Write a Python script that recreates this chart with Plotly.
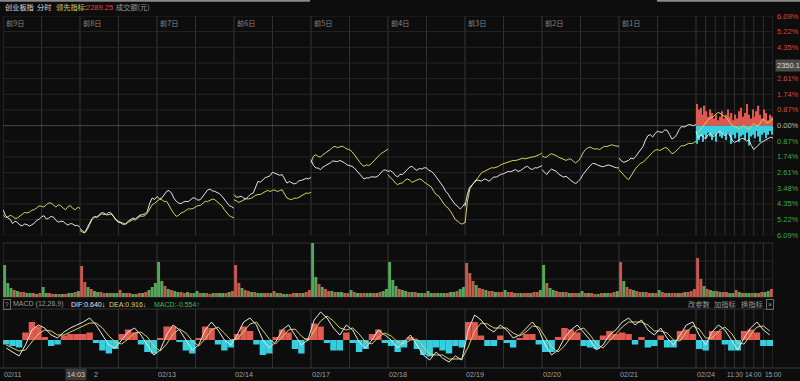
import plotly.graph_objects as go

# ---------------- data ----------------
dates = ["02/11", "02/12", "02/13", "02/14", "02/17", "02/18", "02/19", "02/20", "02/21", "02/24"]
day_tags = ["前9日", "前8日", "前7日", "前6日", "前5日", "前4日", "前3日", "前2日", "前1日"]
time_ticks = ["11:30", "14:00", "15:00"]
time_pos = [9.5, 9.75, 10.0]
pct_levels = [6.09, 5.22, 4.35, 3.48, 2.61, 1.74, 0.87, 0.0, -0.87, -1.74, -2.61, -3.48, -4.35, -5.22, -6.09]
lead_value = "2289.25"
cross_time = "14:03"
cross_price = "2350.1"
cross_level = 3.48
macd_params = "MACD (12,26,9)"
dif_now, dea_now, macd_now = "0.640", "0.916", "-0.554"

# index (white) and leading indicator (yellow), % vs previous close, 33 samples per day
index_pct = [
    [-4.67, -4.98, -5.13, -5.20, -5.44, -5.30, -5.37, -5.52, -5.56, -5.46, -5.50, -5.58, -5.50, -5.42, -5.26, -5.20, -5.07,
     -5.00, -5.19, -5.14, -5.04, -5.08, -5.26, -5.36, -5.31, -5.32, -5.44, -5.52, -5.44, -5.46, -5.56, -5.54, -5.63],
    [-5.69, -5.85, -5.93, -5.70, -5.41, -5.16, -5.04, -5.08, -4.94, -4.84, -4.85, -4.96, -4.94, -4.90, -5.07, -5.26, -5.37,
     -5.40, -5.50, -5.44, -5.31, -5.24, -5.13, -5.18, -5.07, -4.96, -4.94, -4.90, -4.76, -4.30, -4.02, -4.10, -3.93],
    [-3.93, -4.06, -4.02, -3.80, -3.65, -3.60, -3.74, -4.02, -4.20, -4.30, -4.33, -4.24, -4.20, -4.22, -4.11, -4.00, -4.04,
     -4.14, -4.11, -3.92, -3.70, -3.58, -3.52, -3.62, -3.65, -3.70, -3.78, -3.92, -4.11, -4.30, -4.44, -4.50, -4.59],
    [-3.83, -3.98, -3.96, -3.92, -4.02, -4.06, -3.93, -3.80, -3.74, -3.40, -3.09, -3.14, -3.00, -2.88, -2.85, -2.78, -2.59,
     -2.64, -2.67, -2.76, -2.72, -2.96, -3.19, -3.10, -3.15, -3.24, -3.19, -3.06, -3.04, -3.00, -2.93, -2.96, -2.87],
    [-1.89, -2.20, -2.35, -2.36, -2.44, -2.30, -2.22, -2.16, -2.07, -1.96, -1.98, -2.00, -1.93, -1.98, -2.07, -2.18, -2.22,
     -2.26, -2.35, -2.50, -2.63, -2.80, -2.96, -2.90, -2.91, -2.84, -2.85, -2.86, -2.78, -2.60, -2.48, -2.46, -2.54],
    [-2.54, -2.50, -2.59, -2.76, -2.85, -2.70, -2.72, -2.60, -2.44, -2.30, -2.26, -2.40, -2.48, -2.38, -2.41, -2.34, -2.35,
     -2.48, -2.54, -2.66, -2.85, -3.04, -3.19, -3.40, -3.65, -3.80, -4.02, -4.24, -4.39, -4.48, -4.63, -4.50, -4.30],
    [-4.48, -3.80, -3.41, -3.30, -3.15, -3.02, -3.04, -3.08, -2.96, -3.00, -3.09, -2.94, -2.85, -2.86, -2.78, -2.70, -2.67,
     -2.62, -2.54, -2.56, -2.48, -2.44, -2.54, -2.50, -2.41, -2.30, -2.26, -2.38, -2.44, -2.34, -2.35, -2.28, -2.22],
    [-2.44, -2.60, -2.72, -2.52, -2.41, -2.48, -2.54, -2.70, -2.78, -2.86, -2.81, -2.90, -3.04, -3.14, -3.22, -3.10, -2.96,
     -2.72, -2.54, -2.40, -2.22, -2.10, -2.11, -2.18, -2.22, -2.28, -2.26, -2.20, -2.19, -2.26, -2.30, -2.34, -2.35],
    [-1.80, -1.96, -2.04, -2.00, -1.93, -1.80, -1.85, -1.70, -1.52, -1.30, -1.15, -0.80, -0.56, -0.50, -0.63, -0.44, -0.31,
     -0.36, -0.37, -0.24, -0.26, -0.50, -0.74, -0.66, -0.50, -0.22, -0.04, -0.08, 0.00, 0.06, 0.04, 0.00, 0.06],
    [-0.31, -0.70, -0.50, -0.60, -0.74, -0.50, -0.41, -0.60, -0.56, -0.40, -0.31, -0.46, -0.56, -0.42, -0.50, -0.80, -0.93,
     -0.86, -0.81, -0.70, -0.74, -0.86, -0.78, -1.10, -1.33, -1.20, -1.06, -0.94, -0.87, -0.80, -0.74, -0.64, -0.69],
]
lead_pct = [
    [-4.94, -5.10, -5.07, -4.98, -5.04, -5.15, -5.13, -5.02, -4.94, -4.82, -4.85, -4.80, -4.70, -4.66, -4.57, -4.46, -4.48,
     -4.52, -4.39, -4.30, -4.30, -4.40, -4.52, -4.40, -4.44, -4.58, -4.67, -4.50, -4.44, -4.60, -4.67, -4.54, -4.59],
    [-5.81, -5.92, -5.96, -5.78, -5.50, -5.22, -5.07, -5.10, -5.00, -4.90, -4.94, -4.92, -4.81, -4.86, -5.04, -5.22, -5.31,
     -5.36, -5.44, -5.48, -5.37, -5.28, -5.22, -5.24, -5.13, -5.02, -5.04, -5.00, -4.85, -4.60, -4.39, -4.32, -4.20],
    [-4.20, -4.10, -4.11, -4.22, -4.20, -4.40, -4.67, -4.88, -5.04, -4.98, -4.85, -4.80, -4.70, -4.62, -4.63, -4.60, -4.52,
     -4.44, -4.44, -4.34, -4.20, -4.22, -4.15, -4.08, -4.11, -4.22, -4.33, -4.46, -4.67, -4.86, -5.00, -5.06, -5.13],
    [-4.11, -4.20, -4.26, -4.20, -4.15, -4.06, -4.07, -4.04, -3.96, -3.86, -3.83, -3.82, -3.74, -3.64, -3.59, -3.66, -3.59,
     -3.58, -3.67, -3.60, -3.56, -3.80, -4.02, -4.08, -4.11, -4.02, -4.04, -3.98, -3.89, -3.84, -3.74, -3.76, -3.70],
    [-2.07, -1.70, -1.61, -1.72, -1.74, -1.60, -1.52, -1.44, -1.33, -1.20, -1.15, -1.22, -1.19, -1.14, -1.22, -1.30, -1.33,
     -1.44, -1.61, -1.82, -1.98, -2.16, -2.26, -2.18, -2.22, -2.12, -1.98, -1.86, -1.70, -1.56, -1.48, -1.40, -1.30],
    [-2.72, -2.90, -3.00, -3.18, -3.28, -3.20, -3.19, -3.04, -2.96, -3.02, -3.15, -3.10, -3.04, -2.96, -3.00, -3.14, -3.22,
     -3.30, -3.41, -3.64, -3.83, -3.90, -4.07, -4.30, -4.48, -4.58, -4.76, -5.00, -5.22, -5.30, -5.44, -5.46, -5.37],
    [-5.41, -4.20, -3.52, -3.30, -3.09, -2.96, -2.78, -2.60, -2.54, -2.48, -2.41, -2.34, -2.35, -2.30, -2.26, -2.16, -2.11,
     -2.06, -2.00, -1.96, -1.93, -1.94, -1.89, -1.82, -1.81, -1.84, -1.80, -1.74, -1.74, -1.72, -1.67, -1.60, -1.52],
    [-1.67, -1.76, -1.74, -1.62, -1.56, -1.60, -1.67, -1.76, -1.81, -1.90, -1.93, -1.86, -1.85, -1.98, -2.07, -1.96, -1.80,
     -1.52, -1.33, -1.24, -1.19, -1.26, -1.30, -1.28, -1.33, -1.22, -1.15, -1.16, -1.11, -1.06, -1.11, -1.14, -1.15],
    [-2.44, -2.60, -2.72, -2.90, -3.00, -2.80, -2.54, -2.36, -2.22, -2.08, -2.04, -1.90, -1.70, -1.60, -1.48, -1.36, -1.33,
     -1.38, -1.30, -1.22, -1.24, -1.40, -1.56, -1.50, -1.37, -1.20, -1.11, -1.12, -1.07, -0.98, -1.00, -0.96, -0.87],
    [-0.41, -0.36, -0.19, 0.00, 0.15, 0.32, 0.43, 0.48, 0.61, 0.72, 0.70, 0.56, 0.52, 0.40, 0.19, 0.02, -0.04,
     -0.14, -0.19, -0.06, 0.00, -0.14, -0.22, -0.02, 0.11, 0.00, 0.00, 0.22, 0.37, 0.20, 0.15, 0.30, 0.37],
]

# today's strength bars around the 0% line
strength_up = [1.2, 0.9, 1.0, 0.6, 1.1, 0.8, 0.5, 0.9, 0.7, 0.4, 0.6, 0.3, 0.5, 0.8, 0.4, 0.6, 0.9, 0.5, 0.7, 0.3,
               0.6, 0.4, 0.8, 1.0, 0.5, 0.7, 1.2, 0.6, 0.4, 0.9, 0.5, 0.8, 1.1, 0.6, 0.4, 0.9, 0.7, 0.3, 0.6, 0.5]
strength_down = [-1.0, -0.8, -0.6, -0.9, -0.5, -0.7, -0.4, -0.6, -0.8, -0.5, -0.9, -0.4, -0.6, -0.7, -0.5, -0.8, -0.4, -0.6, -1.0, -0.5,
                 -0.7, -0.4, -0.9, -0.6, -0.5, -0.8, -0.4, -1.1, -0.6, -0.5, -0.7, -0.3, -0.6, -0.9, -0.5, -0.4, -0.7, -0.5, -0.3, -0.5]

# turnover (24 bars per day) and up/down flags
volume = [
    [32, 14, 9, 7, 6, 5, 5, 4, 4, 4, 3, 4, 10, 4, 4, 3, 3, 3, 3, 3, 4, 4, 5, 6],
    [31, 15, 10, 8, 6, 5, 5, 4, 4, 4, 4, 4, 7, 4, 4, 4, 3, 3, 4, 4, 5, 7, 10, 14],
    [35, 16, 11, 8, 7, 6, 5, 5, 4, 5, 4, 4, 6, 4, 4, 4, 3, 4, 4, 4, 4, 4, 5, 6],
    [32, 14, 9, 7, 6, 5, 5, 4, 4, 4, 4, 4, 6, 4, 4, 3, 3, 3, 4, 4, 4, 4, 5, 7],
    [54, 20, 13, 10, 8, 6, 6, 5, 5, 5, 4, 4, 7, 5, 4, 4, 4, 4, 4, 4, 4, 5, 6, 8],
    [35, 17, 11, 8, 7, 6, 5, 5, 5, 4, 4, 4, 6, 4, 4, 4, 4, 4, 4, 5, 5, 6, 8, 10],
    [34, 24, 16, 12, 9, 8, 7, 6, 6, 5, 5, 5, 7, 5, 5, 4, 4, 4, 4, 4, 4, 5, 5, 7],
    [32, 14, 9, 7, 6, 5, 5, 5, 4, 4, 4, 4, 6, 4, 4, 4, 3, 3, 4, 4, 4, 4, 5, 6],
    [35, 16, 10, 8, 7, 6, 5, 5, 5, 4, 4, 4, 7, 5, 4, 4, 4, 4, 4, 4, 5, 5, 6, 8],
    [39, 18, 11, 8, 7, 6, 6, 5, 5, 5, 4, 4, 7, 5, 4, 4, 4, 4, 4, 4, 5, 5, 6, 8],
]
volume_dir = [
    "GGGRGRRGGRGRGGRRGRGRGGRG",
    "RRGRGGRRGRGGRGRRGGRGRGGG",
    "GGRGRGGRRGRGGRGRRGRGGRGR",
    "RRGRRGRGGRRGRGRGGRRGRGRR",
    "GGRGRRGRGGRRGRGRRGGRGRGG",
    "GGGRGGRGRGGRGGRGGGRGGRGG",
    "RRRGRRGRRGRRGRRGRGRRGRRG",
    "GRGGRRGRGRRGGRGRRGRGGRRG",
    "RGRRGRRGRRGRGRRGRRGRGRRR",
    "RRGRGGRGRRGGRGRGGRGRRGGR",
]

# MACD (12 samples per day)
dif = [
    [-1.6, -2.4, -3.2, -1.0, 2.0, 3.0, 2.4, 1.0, 0.4, 1.6, 2.4, 3.0],
    [3.6, 4.4, 3.0, 1.0, -1.0, -1.6, 0.0, 1.6, 2.4, 1.0, -1.0, -3.0],
    [-2.0, 1.0, 3.0, 2.0, 0.0, -2.0, -1.0, 2.0, 3.6, 2.0, 0.0, -1.0],
    [1.0, 3.6, 4.4, 3.0, 0.0, -1.6, -0.4, 2.0, 3.0, 1.0, -1.0, 0.0],
    [4.0, 5.6, 4.4, 2.4, 1.0, 3.0, 2.0, -0.4, -1.6, 0.0, 2.0, 1.0],
    [0.0, -1.6, -0.4, 1.0, -1.0, -3.0, -4.0, -2.4, -3.6, -4.4, -3.2, -4.0],
    [2.0, 5.0, 4.0, 2.4, 1.6, 3.0, 2.0, 0.4, 1.0, 2.4, 3.6, 2.0],
    [-1.0, -3.0, -2.0, 0.4, 2.0, 3.0, 1.6, 0.0, -2.0, -1.0, 1.0, 2.0],
    [3.6, 4.4, 3.0, 4.0, 2.0, 1.0, 2.4, 0.4, -1.0, 1.0, 3.0, 3.6],
    [1.0, -1.0, 1.6, 3.0, 2.0, 0.0, -2.0, 0.4, 2.4, 3.6, 2.0, 1.0],
]
dea = [
    [-1.0, -1.6, -2.2, -2.0, -0.4, 1.2, 2.0, 1.8, 1.0, 1.0, 1.6, 2.2],
    [2.8, 3.4, 3.4, 2.4, 0.8, -0.4, -0.8, 0.2, 1.4, 1.6, 0.6, -1.2],
    [-2.2, -0.8, 1.2, 2.2, 1.4, -0.2, -1.2, 0.2, 2.0, 2.6, 1.4, 0.0],
    [0.2, 1.8, 3.2, 3.6, 2.0, 0.2, -0.8, 0.6, 2.0, 2.2, 0.8, -0.2],
    [1.8, 3.8, 4.8, 3.8, 2.4, 2.0, 2.4, 1.2, -0.4, -0.8, 0.6, 1.4],
    [0.8, -0.4, -0.8, 0.0, 0.2, -1.4, -2.8, -3.0, -3.0, -3.8, -3.8, -3.8],
    [-1.4, 1.8, 3.4, 3.2, 2.4, 2.4, 2.4, 1.4, 0.8, 1.6, 2.8, 2.6],
    [0.6, -1.4, -2.4, -1.2, 0.6, 2.0, 2.4, 1.0, -0.8, -1.6, -0.2, 1.2],
    [2.6, 3.6, 3.6, 3.6, 3.0, 1.8, 1.8, 1.4, 0.0, -0.2, 1.6, 2.8],
    [2.2, 0.4, 0.4, 1.8, 2.6, 1.4, -0.6, -0.8, 1.0, 2.6, 2.8, 1.8],
]
macd_hist = [
    [-0.9, -1.2, -1.5, 1.5, 3.6, 2.7, 0.6, -1.2, -0.9, 0.9, 1.2, 1.2],
    [1.2, 1.5, -0.6, -2.1, -2.7, -1.8, 1.2, 2.1, 1.5, -0.9, -2.4, -2.7],
    [0.3, 2.7, 2.7, -0.3, -2.1, -2.7, 0.3, 2.7, 2.4, -0.9, -2.1, -1.5],
    [1.2, 2.7, 1.8, -0.9, -3.0, -2.7, 0.6, 2.1, 1.5, -1.8, -2.7, 0.3],
    [3.3, 2.7, -0.6, -2.1, -2.1, 1.5, -0.6, -2.4, -1.8, 1.2, 2.1, -0.6],
    [-1.2, -2.4, -1.5, 0.6, -1.8, -3.0, -3.3, -1.5, -2.1, -2.7, -1.2, -1.5],
    [3.6, 3.6, 0.9, -1.2, -1.2, 0.9, -0.6, -1.5, 0.3, 1.2, 1.2, -0.9],
    [-2.4, -2.4, 0.6, 2.4, 2.1, 1.5, -1.2, -1.5, -1.8, 0.9, 1.8, 1.2],
    [1.5, 1.2, -0.9, 0.6, -1.5, -1.2, 0.9, -1.5, -1.5, 1.8, 2.1, 1.2],
    [-1.8, -2.1, 1.8, 1.8, -0.9, -2.1, -2.1, 1.8, 2.1, 1.5, -1.2, -1.2],
]

# ---------------- styling ----------------
W, H = 800, 381
BG = "#0d0d0d"
GRID = "#262626"
VLINE = "#303030"
RED = "#d9473f"
GREEN = "#3fa84c"
WHITE_LINE = "#e6e6e6"
YELLOW_LINE = "#d9d062"
NUM_FONT = "Liberation Sans, Arial, sans-serif"
CJK_FONT = "Noto Sans CJK SC, sans-serif"

X_LEFT, X_RIGHT = 3, 773
MAIN_TOP, MAIN_BOT = 16, 235.3
VOL_TOP, VOL_BOT = 243, 297
MACD_TOP, MACD_BOT = 310, 368


def px(x):
    return x / W


def py(y):
    return 1 - y / H


n_days = len(dates)

# ---------------- traces ----------------
fig = go.Figure()

nb = len(strength_up)
sx = [n_days - 1 + (i + 0.5) / nb for i in range(nb)]
fig.add_trace(go.Bar(x=sx, y=strength_up, width=0.7 / nb, marker=dict(color="#e0574e", line=dict(width=0)),
                     xaxis="x", yaxis="y", hoverinfo="skip"))
fig.add_trace(go.Bar(x=sx, y=strength_down, width=0.7 / nb, marker=dict(color="#35cfe0", line=dict(width=0)),
                     xaxis="x", yaxis="y", hoverinfo="skip"))

lx, lw, ly = [], [], []
for d in range(n_days):
    n = len(index_pct[d])
    for k in range(n):
        lx.append(d + k / (n - 1))
        lw.append(index_pct[d][k])
        ly.append(lead_pct[d][k])
    lx.append(None); lw.append(None); ly.append(None)

fig.add_trace(go.Scatter(x=lx, y=ly, mode="lines", line=dict(color=YELLOW_LINE, width=1),
                         xaxis="x", yaxis="y", hoverinfo="skip", connectgaps=False))
fig.add_trace(go.Scatter(x=lx, y=lw, mode="lines", line=dict(color=WHITE_LINE, width=1),
                         xaxis="x", yaxis="y", hoverinfo="skip", connectgaps=False))

vx, vy, vc = [], [], []
for d in range(n_days):
    n = len(volume[d])
    for k in range(n):
        vx.append(d + (k + 0.5) / n)
        vy.append(volume[d][k])
        vc.append("#c65a4f" if volume_dir[d][k] == "R" else "#55a85a")
fig.add_trace(go.Bar(x=vx, y=vy, width=0.92 / 24, marker=dict(color=vc, line=dict(width=0)),
                     xaxis="x", yaxis="y2", hoverinfo="skip"))

mx, mh, md, me = [], [], [], []
for d in range(n_days):
    n = len(macd_hist[d])
    for k in range(n):
        mx.append(d + (k + 0.5) / n)
        mh.append(macd_hist[d][k])
        md.append(dif[d][k])
        me.append(dea[d][k])
mcol = ["#df5a50" if v > 0 else "#35cfe0" for v in mh]
fig.add_trace(go.Bar(x=mx, y=mh, width=1.0 / 12, marker=dict(color=mcol, line=dict(width=0)),
                     xaxis="x", yaxis="y3", hoverinfo="skip"))
fig.add_trace(go.Scatter(x=mx, y=me, mode="lines", line=dict(color=YELLOW_LINE, width=1),
                         xaxis="x", yaxis="y3", hoverinfo="skip"))
fig.add_trace(go.Scatter(x=mx, y=md, mode="lines", line=dict(color=WHITE_LINE, width=1),
                         xaxis="x", yaxis="y3", hoverinfo="skip"))

# ---------------- grid shapes ----------------
shapes = []


def hline_data(yv, yref, color):
    shapes.append(dict(type="line", xref="x", yref=yref, x0=0, x1=n_days, y0=yv, y1=yv,
                       line=dict(color=color, width=1), layer="below"))


def hline_px(ypx, x0, x1, color, width=1):
    shapes.append(dict(type="line", xref="paper", yref="paper", x0=px(x0), x1=px(x1), y0=py(ypx), y1=py(ypx),
                       line=dict(color=color, width=width), layer="below"))


for v in pct_levels:
    hline_data(v, "y", "#4a4a4a" if v == 0 else GRID)
for v in [18, 36]:
    hline_data(v, "y2", GRID)
hline_px(VOL_TOP, X_LEFT, X_RIGHT, VLINE)
hline_px(VOL_BOT, X_LEFT, X_RIGHT, VLINE)
hline_px(MACD_TOP - 1, X_LEFT, X_RIGHT, VLINE)
hline_px(MACD_BOT, 0, W, "#3a3a3a")
hline_px(0.8, 0, 310, "#8a8a8a", 2)
hline_px(0.8, 657, W, "#8a8a8a", 2)

vxs = [(d, "#383838") for d in range(n_days + 1)]
vxs += [(d + 0.5, VLINE) for d in range(n_days - 1)]
vxs += [(n_days - 1 + k / 8, VLINE) for k in range(1, 8)]
for xv, col in vxs:
    for top, bot in [(MAIN_TOP, MAIN_BOT), (VOL_TOP, VOL_BOT), (MACD_TOP - 1, MACD_BOT)]:
        shapes.append(dict(type="line", xref="x", yref="paper", x0=xv, x1=xv, y0=py(bot), y1=py(top),
                           line=dict(color=col, width=1), layer="below"))

# ---------------- annotations ----------------
ann = []


def text(t, x, y, color, size=7.5, font=NUM_FONT, xanchor="left", xref="paper", yref="paper", bg=None,
         border=None):
    d = dict(text=t, x=x, y=y, xref=xref, yref=yref, xanchor=xanchor, yanchor="middle", showarrow=False,
             font=dict(color=color, size=size, family=font))
    if bg:
        d["bgcolor"] = bg
    if border:
        d["bordercolor"] = border
        d["borderwidth"] = 1
    d["borderpad"] = 1 if (bg or border) else 0
    ann.append(d)


# title bar
text("创业板指", px(4), py(7), "#dcdcdc", 7.2, CJK_FONT)
text("分时", px(36), py(7), "#dcdcdc", 7.2, CJK_FONT)
text("领先指标:", px(55), py(7), "#d8cb6a", 7.2, CJK_FONT)
text(lead_value, px(85), py(7), RED, 7.5)
text("成交额(元)", px(115), py(7), "#9a9a9a", 7.2, CJK_FONT)

# day tags
for d, t in enumerate(day_tags):
    text(t, d + 0.02, py(23), "#8a8a8a", 7.2, CJK_FONT, xref="x")

# right percentage labels (the one under the crosshair price box is hidden)
for v in pct_levels:
    if v == cross_level:
        continue
    col = RED if v > 0 else (GREEN if v < 0 else "#bdbdbd")
    text(f"{abs(v):.2f}%", px(776), v, col, 7.5, yref="y")
text(cross_price, px(775), cross_level - 0.12, "#dddddd", 7.5, yref="y", bg="#4a4a4a")

# MACD header
text("?", px(3), py(304), "#9a9a9a", 6.5, border="#6a6a6a")
text(macd_params, px(12), py(304), "#9a9a9a", 7)
text(f"DIF:{dif_now}↓", px(70), py(304), "#e8e8e8", 7)
text(f"DEA:{dea_now}↓", px(108), py(304), "#ddd465", 7)
text(f"MACD:{macd_now}↑", px(153), py(304), "#3fbf5c", 7)
text("改参数", px(687), py(304), "#9a9a9a", 7.2, CJK_FONT)
text("加指标", px(713), py(304), "#9a9a9a", 7.2, CJK_FONT)
text("换指标", px(740), py(304), "#9a9a9a", 7.2, CJK_FONT)
text("×", px(766), py(304), "#9a9a9a", 7, border="#6a6a6a")

# bottom date axis
for d, t in enumerate(dates):
    if d == 1:
        text(t[-1], px(93), py(374.5), "#a0a0a0", 7.2)
        continue
    text(t, d, py(374.5), "#a0a0a0", 7.2, xref="x")
for t, xv in zip(time_ticks, time_pos):
    text(t, xv, py(374.5), "#a0a0a0", 6.5, xref="x", xanchor="center")
text(cross_time, px(76), py(374.5), "#cfcfcf", 7.2, xanchor="center", bg="#3a3a3a")

fig.update_layout(
    width=W, height=H,
    margin=dict(l=0, r=0, t=0, b=0),
    paper_bgcolor=BG, plot_bgcolor=BG,
    showlegend=False, barmode="overlay", hovermode=False,
    xaxis=dict(domain=[px(X_LEFT), px(X_RIGHT)], range=[0, n_days], visible=False, anchor="y3"),
    yaxis=dict(domain=[py(MAIN_BOT), py(MAIN_TOP)], range=[-6.09, 6.09], visible=False),
    yaxis2=dict(domain=[py(VOL_BOT), py(VOL_TOP)], range=[0, 54], visible=False),
    yaxis3=dict(domain=[py(MACD_BOT), py(MACD_TOP)], range=[-5.6, 6.0], visible=False),
    shapes=shapes, annotations=ann,
)

fig.write_html("out.html", config={"displayModeBar": False},
               post_script="document.body.style.margin='0';document.body.style.overflow='hidden';"
                           "document.body.style.background='#0d0d0d';")
